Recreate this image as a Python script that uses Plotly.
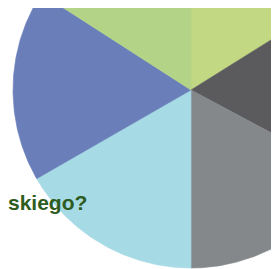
import numpy as np
import plotly.graph_objects as go

# Slices, clockwise from 12 o'clock
labels = ["A", "B", "C", "D", "E", "F"]
values = [16.1, 16.7, 17.2, 16.7, 17.4, 15.9]
colors = ["#c2d882", "#5b5b5e", "#84888b", "#a6dae5", "#6a7fba", "#b3d486"]
title_fragment = "skiego?"

OFF = 8                        # page body margin
W, H = 279, 269
cx, cy = 191 - OFF, 90 - OFF   # pie centre in figure pixels
R = 178                        # pie radius in pixels

total = sum(values)
fig = go.Figure()
start = 90.0
for lab, v, col in zip(labels, values, colors):
    sweep = v / total * 360
    ang = np.radians(np.linspace(start, start - sweep, 120))
    xs = np.concatenate([[0], np.cos(ang), [0]])
    ys = np.concatenate([[0], np.sin(ang), [0]])
    fig.add_trace(go.Scatter(
        x=xs, y=ys, mode="lines", fill="toself", fillcolor=col,
        line=dict(color=col, width=0.6), name=lab,
        hoverinfo="name", showlegend=False,
    ))
    start -= sweep

fig.update_layout(
    width=W, height=H,
    margin=dict(l=0, r=0, t=0, b=0),
    paper_bgcolor="white", plot_bgcolor="white",
    xaxis=dict(range=[-cx / R, (W - cx) / R], visible=False, fixedrange=True),
    yaxis=dict(range=[-(H - cy) / R, cy / R], visible=False, fixedrange=True),
    annotations=[dict(text=title_fragment, xref="paper", yref="paper",
                      x=(89 - OFF) / W, y=1 - (202 - OFF) / H,
                      xanchor="right", yanchor="middle",
                      showarrow=False,
                      font=dict(family="Liberation Sans, Arial", size=21,
                                color="#2e5c1f", weight="bold"))],
)

fig.write_html("out.html")
